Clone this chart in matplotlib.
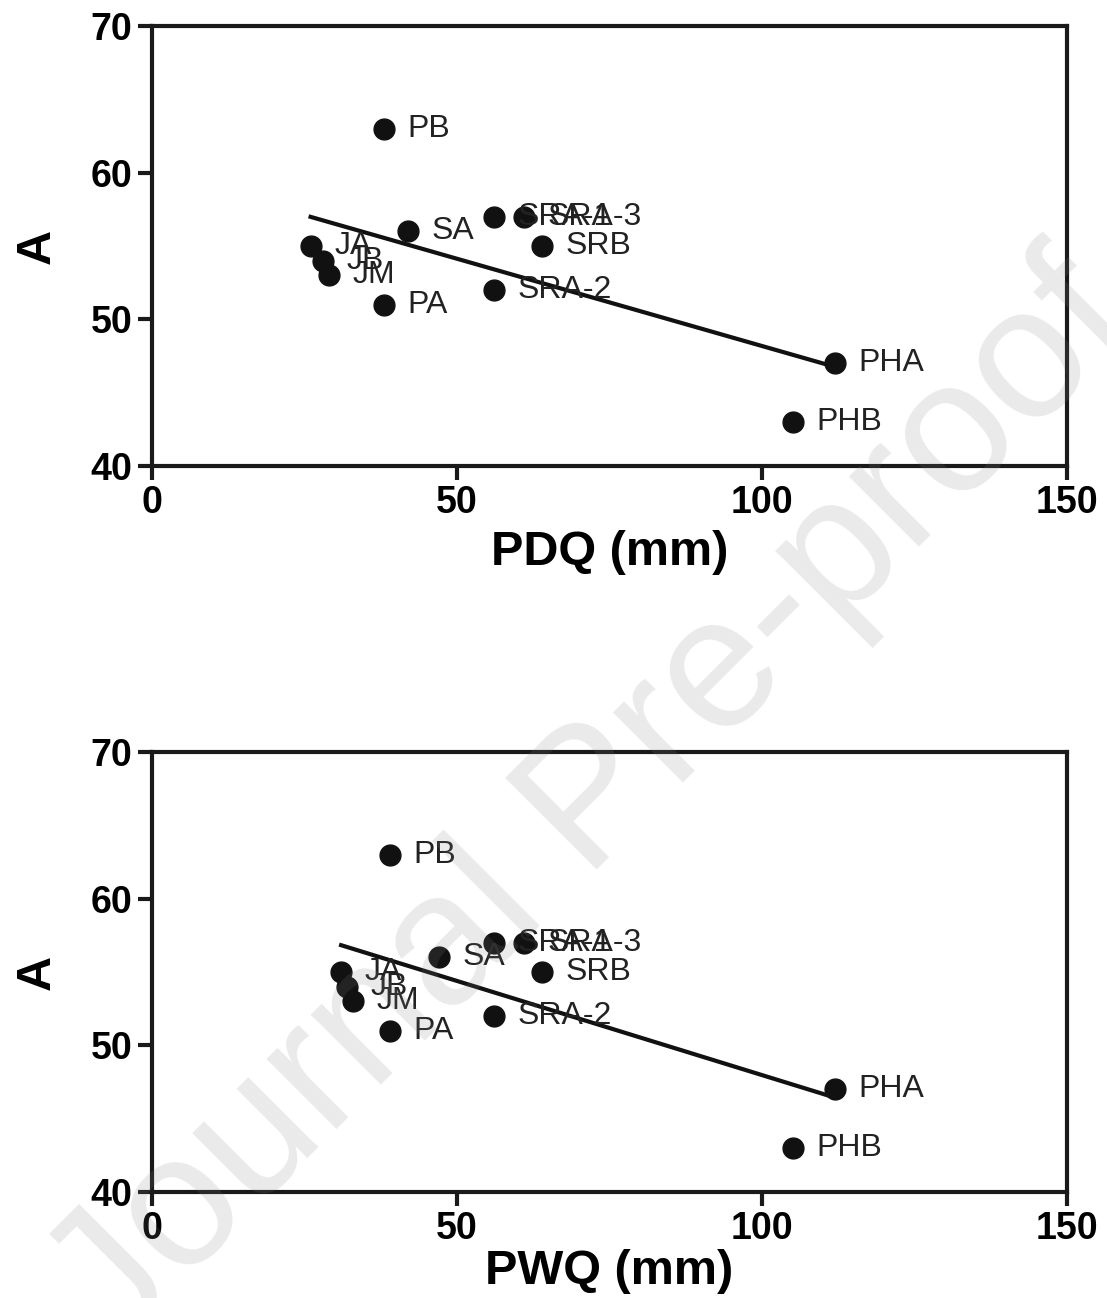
import numpy as np
import matplotlib
matplotlib.use('Agg')
import matplotlib.pyplot as plt

plt.rcParams['font.family'] = ['Liberation Sans', 'DejaVu Sans']

# 样本名称
names = ['PB', 'JA', 'JB', 'JM', 'PA', 'SA', 'SRA-1', 'SRA-3', 'SRB', 'SRA-2', 'PHA', 'PHB']
# A 值
a_vals = [63, 55, 54, 53, 51, 56, 57, 57, 55, 52, 47, 43]
# PDQ (mm)
pdq = [38, 26, 28, 29, 38, 42, 56, 61, 64, 56, 112, 105]
# PWQ (mm)
pwq = [39, 31, 32, 33, 39, 47, 56, 61, 64, 56, 112, 105]

fig = plt.figure(figsize=(11.07, 12.98), dpi=100)

def draw(ax, x, y, xlabel, lpad):
    x = np.array(x, dtype=float)
    y = np.array(y, dtype=float)
    ax.plot(x, y, 'o', color='#111111', markersize=15, zorder=3)
    for n, xi, yi in zip(names, x, y):
        ax.annotate(n, (xi, yi), xytext=(17, 0), textcoords='offset points',
                    va='center', ha='left', fontsize=23, color='#222222')
    # 回归线
    k, b = np.polyfit(x, y, 1)
    xs = np.array([x.min(), x.max()])
    ax.plot(xs, k * xs + b, color='#111111', lw=3, zorder=2)
    ax.set_xlim(0, 150)
    ax.set_ylim(40, 70)
    ax.set_xticks([0, 50, 100, 150])
    ax.set_yticks([40, 50, 60, 70])
    for s in ax.spines.values():
        s.set_linewidth(3)
        s.set_color('#1a1a1a')
    ax.tick_params(width=3, length=10, labelsize=27, color='#1a1a1a', pad=4)
    for lab in ax.get_xticklabels() + ax.get_yticklabels():
        lab.set_fontweight('bold')
    ax.set_xlabel(xlabel, fontsize=35, fontweight='bold', labelpad=lpad)
    ax.set_ylabel('A', fontsize=35, fontweight='bold', labelpad=22)

ax1 = fig.add_axes([0.1373, 0.641, 0.8266, 0.339])
draw(ax1, pdq, a_vals, 'PDQ (mm)', 6)
ax2 = fig.add_axes([0.1373, 0.0817, 0.8266, 0.339])
draw(ax2, pwq, a_vals, 'PWQ (mm)', 1)

# 水印
fig.text(0.535, 0.38, 'Journal Pre-proof', fontsize=135, color='gray', alpha=0.17,
         rotation=45, ha='center', va='center', zorder=10)

fig.savefig('out.png', dpi=100)
